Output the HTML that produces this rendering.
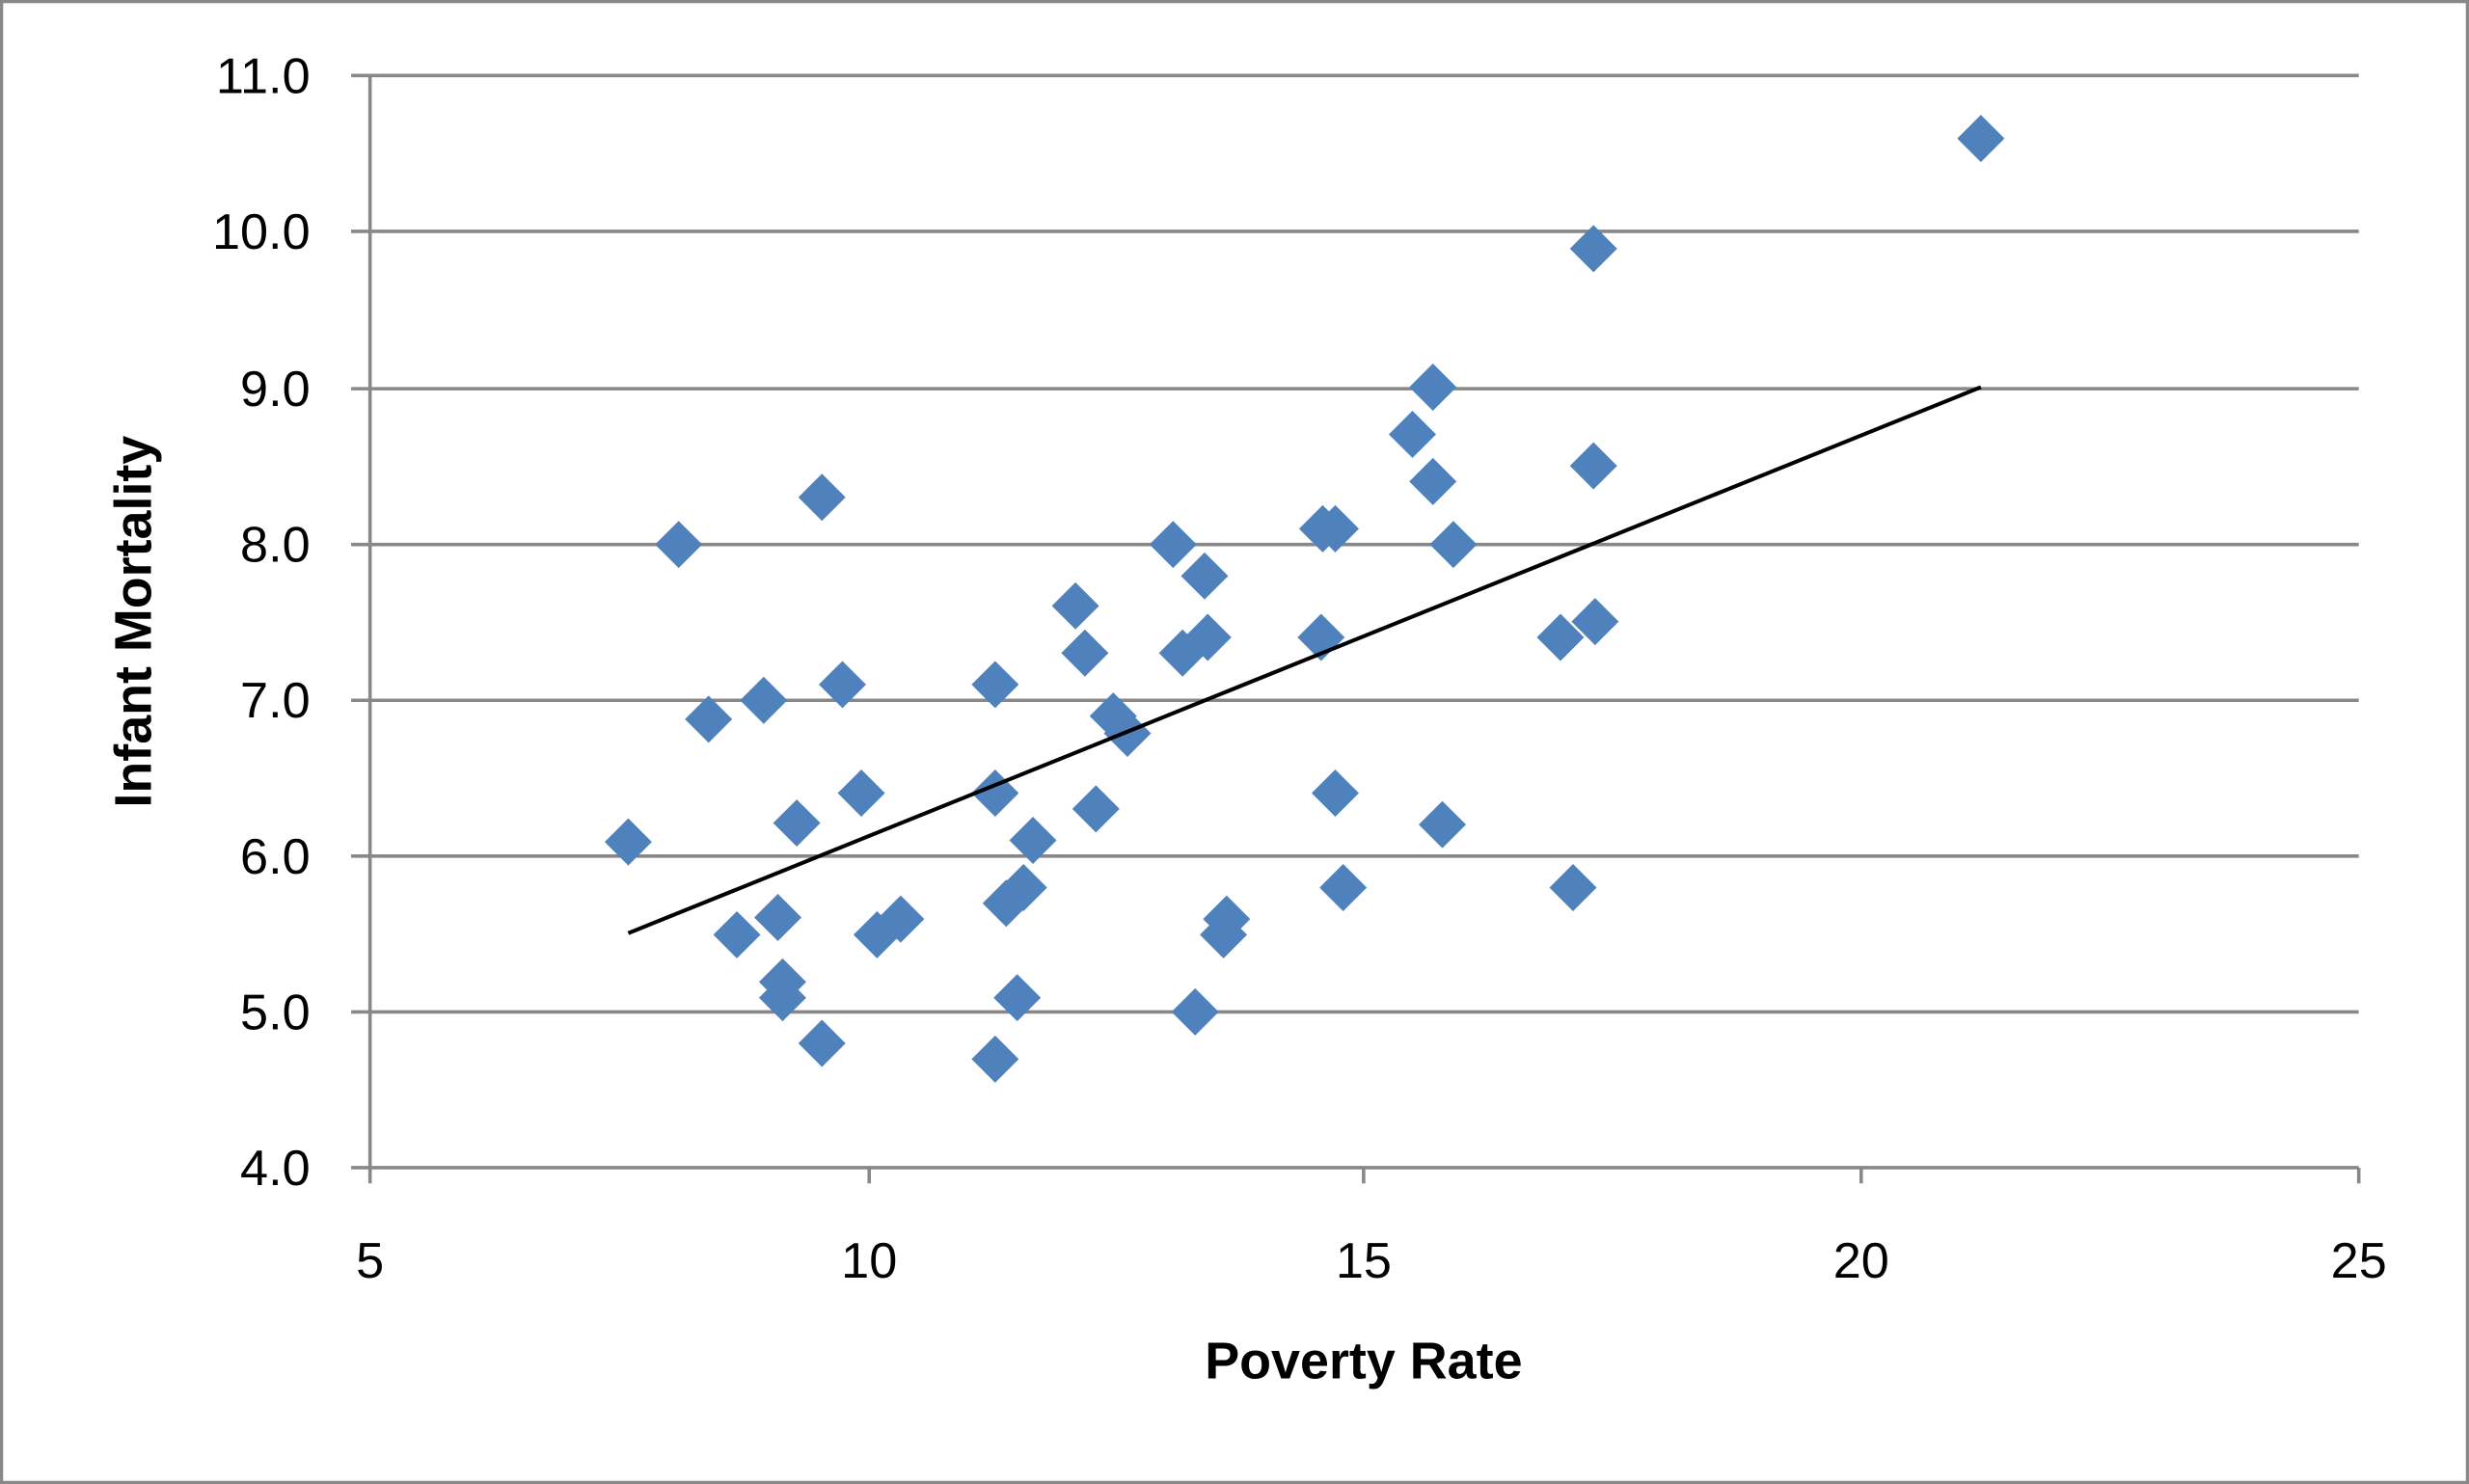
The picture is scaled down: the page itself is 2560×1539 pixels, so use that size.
<!DOCTYPE html>
<html><head><meta charset="utf-8"><style>html,body{margin:0;padding:0;background:#fff}svg{display:block}</style></head>
<body>
<svg width="2560" height="1539" viewBox="0 0 1568 943" preserveAspectRatio="none" xmlns="http://www.w3.org/2000/svg" font-family="Liberation Sans, sans-serif">
<defs><polygon id="d" points="0,-15 15,0 0,15 -15,0" fill="#4F81BD"/></defs>
<rect x="1" y="1" width="1566" height="941" fill="#fff" stroke="#888" stroke-width="2"/>
<g stroke="#888" stroke-width="2.2">
<line x1="223" y1="48" x2="1498" y2="48"/>
<line x1="223" y1="147" x2="1498" y2="147"/>
<line x1="223" y1="247" x2="1498" y2="247"/>
<line x1="223" y1="346" x2="1498" y2="346"/>
<line x1="223" y1="445" x2="1498" y2="445"/>
<line x1="223" y1="544" x2="1498" y2="544"/>
<line x1="223" y1="643" x2="1498" y2="643"/>
<line x1="223" y1="742" x2="1498" y2="742"/>
<line x1="235" y1="48" x2="235" y2="752"/>
<line x1="552" y1="742" x2="552" y2="752"/>
<line x1="866" y1="742" x2="866" y2="752"/>
<line x1="1182" y1="742" x2="1182" y2="752"/>
<line x1="1498" y1="742" x2="1498" y2="752"/>
</g>
<g font-size="32" fill="#000" text-anchor="end">
<text x="197" y="59">11.0</text><text x="197" y="158">10.0</text><text x="197" y="258">9.0</text>
<text x="197" y="357">8.0</text><text x="197" y="456">7.0</text><text x="197" y="555">6.0</text>
<text x="197" y="654">5.0</text><text x="197" y="753">4.0</text>
</g>
<g font-size="32" fill="#000" text-anchor="middle">
<text x="235" y="812">5</text><text x="552" y="812">10</text><text x="866" y="812">15</text>
<text x="1182" y="812">20</text><text x="1498" y="812">25</text>
</g>
<text x="866" y="876" font-size="33" font-weight="bold" text-anchor="middle">Poverty Rate</text>
<text transform="translate(96,395) rotate(-90)" font-size="33" font-weight="bold" text-anchor="middle">Infant Mortality</text>
<use href="#d" x="399" y="535"/><use href="#d" x="431" y="346"/><use href="#d" x="450" y="457"/><use href="#d" x="468" y="594"/>
<use href="#d" x="494" y="583"/><use href="#d" x="485" y="445"/><use href="#d" x="506" y="523"/><use href="#d" x="497" y="624"/>
<use href="#d" x="497" y="634"/><use href="#d" x="522" y="663"/><use href="#d" x="522" y="316"/><use href="#d" x="535" y="435"/>
<use href="#d" x="547" y="504"/><use href="#d" x="557" y="594"/><use href="#d" x="572" y="584"/><use href="#d" x="632" y="435"/>
<use href="#d" x="632" y="504"/><use href="#d" x="639" y="574"/><use href="#d" x="646" y="634"/><use href="#d" x="632" y="673"/>
<use href="#d" x="656" y="534"/><use href="#d" x="650" y="564"/><use href="#d" x="683" y="385"/><use href="#d" x="689" y="415"/>
<use href="#d" x="696" y="514"/><use href="#d" x="707" y="455"/><use href="#d" x="716" y="466"/><use href="#d" x="745" y="346"/>
<use href="#d" x="751" y="415"/><use href="#d" x="759" y="643"/><use href="#d" x="765" y="366"/><use href="#d" x="767" y="405"/>
<use href="#d" x="777" y="594"/><use href="#d" x="779" y="584"/><use href="#d" x="839" y="405"/><use href="#d" x="840" y="336"/>
<use href="#d" x="848" y="336"/><use href="#d" x="848" y="504"/><use href="#d" x="853" y="564"/><use href="#d" x="897" y="276"/>
<use href="#d" x="910" y="246"/><use href="#d" x="910" y="306"/><use href="#d" x="923" y="346"/><use href="#d" x="916" y="524"/>
<use href="#d" x="991" y="405"/><use href="#d" x="999" y="564"/><use href="#d" x="1012" y="158"/><use href="#d" x="1012" y="296"/>
<use href="#d" x="1013" y="395"/><use href="#d" x="1258" y="88"/>
<line x1="399" y1="593" x2="1258" y2="246" stroke="#000" stroke-width="2.5"/>
</svg>
</body></html>
